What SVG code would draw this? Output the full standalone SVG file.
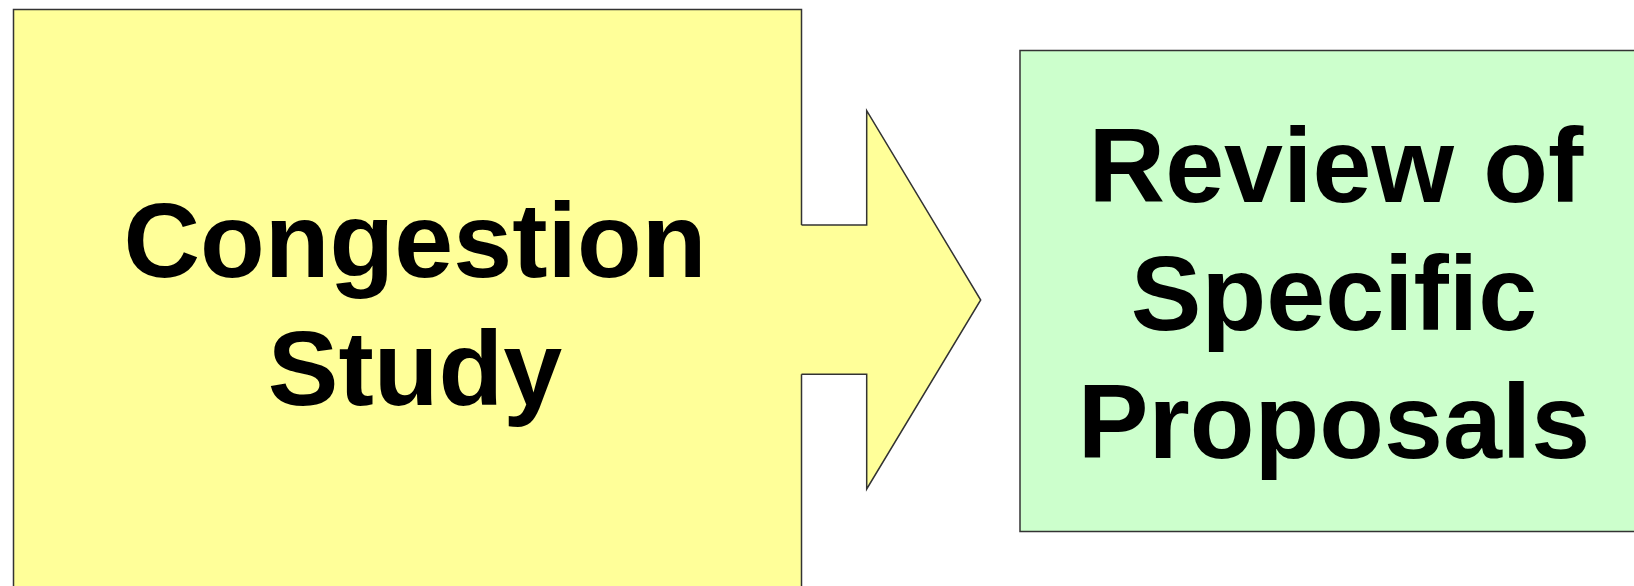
<svg xmlns="http://www.w3.org/2000/svg" width="1634" height="586" viewBox="0 0 1634 586">
<style>
.lbl{font-family:"Liberation Sans",Arial,sans-serif;font-weight:bold;font-size:106px;fill:#000;text-anchor:middle}
.edge{stroke:#333;stroke-width:1.5}
.line{stroke:#333;stroke-width:1.5;fill:none}
.yel{fill:#FFFF99}
.grn{fill:#CCFFCC}
</style>
<rect width="1634" height="586" fill="#fff"/>
<g id="congestion-study">
<rect x="13.5" y="9.5" width="788" height="600" class="edge yel"/>
<text class="lbl" x="415" y="277">Congestion</text>
<text class="lbl" x="415" y="405">Study</text>
</g>
<g id="connectors">
<polygon points="795,225 866.7,225 866.7,110.7 980.7,300 866.7,489 866.7,374.3 795,374.3" class="yel"/>
<polyline class="line" points="801.5,225 866.7,225 866.7,110.7 980.7,300 866.7,489 866.7,374.3 801.5,374.3"/>
</g>
<g id="review-proposals">
<rect x="1020" y="50.5" width="640" height="481" class="edge grn"/>
<text class="lbl" x="1336" y="202">Review of</text>
<text class="lbl" x="1334" y="330">Specific</text>
<text class="lbl" x="1334" y="458">Proposals</text>
</g>
</svg>
